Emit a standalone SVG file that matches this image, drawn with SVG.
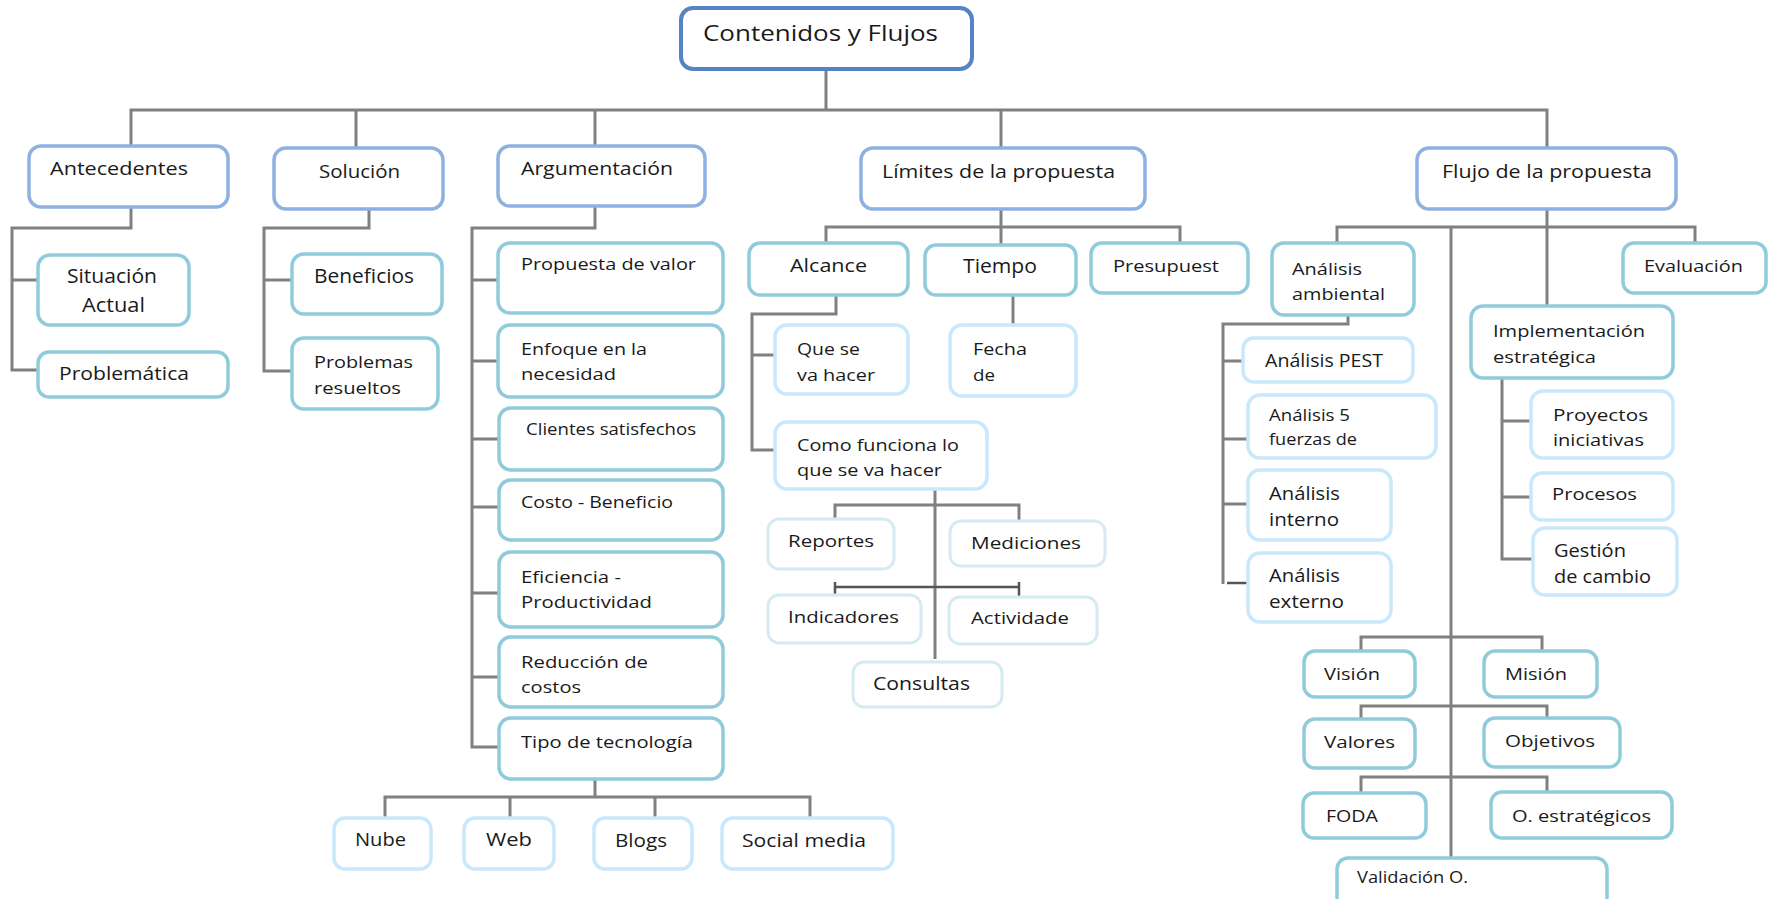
<svg xmlns="http://www.w3.org/2000/svg" width="1775" height="899" viewBox="0 0 1775 899">
<style>
.bx{fill:#fff;stroke-width:3.5}
.r0{stroke:#5583c4;stroke-width:4}
.r1{stroke:#8eb1e0}
.r2{stroke:#90cbdc}
.r3{stroke:#c8e8fb}
.r4{stroke:#d6eaf2;stroke-width:3}
text{font-family:"Open Sans","Liberation Sans",Arial,sans-serif;fill:#1a1a1a}
.cn{fill:none;stroke:#808080;stroke-width:3}
.cd{fill:none;stroke:#555;stroke-width:2.5}
</style>
<rect width="1775" height="899" fill="#fff"/>
<g id="connectors">
<path class="cn" d="M826,69V110M131,146V110H1547V148M356,110V148M595,110V146M1001,110V148"/>
<path class="cn" d="M131,207V228H12V370H38M12,280H38"/>
<path class="cn" d="M369,209V228H264V371H292M264,280H292"/>
<path class="cn" d="M595,206V228H472V747H499M472,280H498M472,361H498M472,439H499M472,507H499M472,593H499M472,677H499"/>
<path class="cn" d="M595,779V797M385,818V797H810V818M510,797V818M655,797V818"/>
<path class="cn" d="M1001,209V245M826,243V227H1180V243"/>
<path class="cn" d="M836,295V314H752V450H775M752,355H775"/>
<path class="cn" d="M1013,295V325"/>
<path class="cn" d="M935,489V659M835,519V505H1019V521"/>
<path class="cd" d="M835,582V595M835,587H1019M1019,582V597"/>
<path class="cn" d="M1547,209V306M1337,243V227H1695V243M1451,228V858"/>
<path class="cn" d="M1348,315V324H1223V584M1223,361H1243M1223,439H1248M1223,504H1248"/>
<path class="cd" d="M1227,583H1249"/>
<path class="cn" d="M1502,378V559H1533M1502,421H1531M1502,497H1531"/>
<path class="cn" d="M1361,651V637H1542V651M1361,719V706H1547V718M1361,793V777H1547V792"/>
</g>
<g id="n-root"><rect class="bx r0" x="681" y="8" width="291" height="61" rx="12"/><text x="703" y="41" font-size="22" textLength="235" lengthAdjust="spacingAndGlyphs">Contenidos y Flujos</text></g>
<g id="n-antecedentes"><rect class="bx r1" x="29" y="146" width="199" height="61" rx="12"/><text x="50" y="175" font-size="18.5" textLength="138" lengthAdjust="spacingAndGlyphs">Antecedentes</text></g>
<g id="n-solucion"><rect class="bx r1" x="274" y="148" width="169" height="61" rx="12"/><text x="319" y="178" font-size="18.5" textLength="81" lengthAdjust="spacingAndGlyphs">Solución</text></g>
<g id="n-argumentacion"><rect class="bx r1" x="498" y="146" width="207" height="60" rx="12"/><text x="521" y="175" font-size="18.5" textLength="152" lengthAdjust="spacingAndGlyphs">Argumentación</text></g>
<g id="n-limites"><rect class="bx r1" x="861" y="148" width="284" height="61" rx="12"/><text x="882" y="178" font-size="18.5" textLength="233" lengthAdjust="spacingAndGlyphs">Límites de la propuesta</text></g>
<g id="n-flujo"><rect class="bx r1" x="1417" y="148" width="259" height="61" rx="12"/><text x="1442" y="178" font-size="18.5" textLength="210" lengthAdjust="spacingAndGlyphs">Flujo de la propuesta</text></g>
<g id="n-situacion"><rect class="bx r2" x="38" y="255" width="151" height="70" rx="12"/><text x="67" y="283" font-size="19.5" textLength="90" lengthAdjust="spacingAndGlyphs">Situación</text><text x="82" y="312" font-size="19.5" textLength="63" lengthAdjust="spacingAndGlyphs">Actual</text></g>
<g id="n-problematica"><rect class="bx r2" x="38" y="352" width="190" height="45" rx="11"/><text x="59" y="380" font-size="18.5" textLength="130" lengthAdjust="spacingAndGlyphs">Problemática</text></g>
<g id="n-beneficios"><rect class="bx r2" x="292" y="254" width="150" height="60" rx="12"/><text x="314" y="283" font-size="19.5" textLength="100" lengthAdjust="spacingAndGlyphs">Beneficios</text></g>
<g id="n-problemas"><rect class="bx r2" x="292" y="338" width="146" height="71" rx="12"/><text x="314" y="368" font-size="17" textLength="99" lengthAdjust="spacingAndGlyphs">Problemas</text><text x="314" y="394" font-size="17" textLength="87" lengthAdjust="spacingAndGlyphs">resueltos</text></g>
<g id="n-propuesta"><rect class="bx r2" x="498" y="243" width="225" height="70" rx="12"/><text x="521" y="270" font-size="17" textLength="175" lengthAdjust="spacingAndGlyphs">Propuesta de valor</text></g>
<g id="n-enfoque"><rect class="bx r2" x="498" y="325" width="225" height="72" rx="12"/><text x="521" y="355" font-size="17" textLength="126" lengthAdjust="spacingAndGlyphs">Enfoque en la</text><text x="521" y="380" font-size="17" textLength="95" lengthAdjust="spacingAndGlyphs">necesidad</text></g>
<g id="n-clientes"><rect class="bx r2" x="499" y="408" width="224" height="62" rx="12"/><text x="526" y="435" font-size="17" textLength="170" lengthAdjust="spacingAndGlyphs">Clientes satisfechos</text></g>
<g id="n-costo"><rect class="bx r2" x="499" y="480" width="224" height="60" rx="12"/><text x="521" y="508" font-size="17" textLength="152" lengthAdjust="spacingAndGlyphs">Costo - Beneficio</text></g>
<g id="n-eficiencia"><rect class="bx r2" x="499" y="552" width="224" height="75" rx="12"/><text x="521" y="583" font-size="17" textLength="100" lengthAdjust="spacingAndGlyphs">Eficiencia -</text><text x="521" y="608" font-size="17" textLength="131" lengthAdjust="spacingAndGlyphs">Productividad</text></g>
<g id="n-reduccion"><rect class="bx r2" x="499" y="637" width="224" height="70" rx="12"/><text x="521" y="668" font-size="17" textLength="127" lengthAdjust="spacingAndGlyphs">Reducción de</text><text x="521" y="693" font-size="17" textLength="60" lengthAdjust="spacingAndGlyphs">costos</text></g>
<g id="n-tipo"><rect class="bx r2" x="499" y="718" width="224" height="61" rx="12"/><text x="521" y="748" font-size="17" textLength="172" lengthAdjust="spacingAndGlyphs">Tipo de tecnología</text></g>
<g id="n-nube"><rect class="bx r3" x="334" y="818" width="97" height="51" rx="11"/><text x="355" y="846" font-size="19" textLength="51" lengthAdjust="spacingAndGlyphs">Nube</text></g>
<g id="n-web"><rect class="bx r3" x="464" y="818" width="90" height="51" rx="11"/><text x="486" y="846" font-size="19" textLength="46" lengthAdjust="spacingAndGlyphs">Web</text></g>
<g id="n-blogs"><rect class="bx r3" x="594" y="818" width="98" height="51" rx="11"/><text x="615" y="847" font-size="19" textLength="52" lengthAdjust="spacingAndGlyphs">Blogs</text></g>
<g id="n-social"><rect class="bx r3" x="722" y="818" width="171" height="51" rx="11"/><text x="742" y="847" font-size="19" textLength="124" lengthAdjust="spacingAndGlyphs">Social media</text></g>
<g id="n-alcance"><rect class="bx r2" x="749" y="243" width="159" height="52" rx="11"/><text x="790" y="272" font-size="17.5" textLength="77" lengthAdjust="spacingAndGlyphs">Alcance</text></g>
<g id="n-tiempo"><rect class="bx r2" x="925" y="245" width="151" height="50" rx="11"/><text x="963" y="273" font-size="19.5" textLength="74" lengthAdjust="spacingAndGlyphs">Tiempo</text></g>
<g id="n-presupuest"><rect class="bx r2" x="1091" y="243" width="157" height="50" rx="11"/><text x="1113" y="272" font-size="16.5" textLength="106" lengthAdjust="spacingAndGlyphs">Presupuest</text></g>
<g id="n-queseva"><rect class="bx r3" x="775" y="325" width="133" height="69" rx="12"/><text x="797" y="355" font-size="16" textLength="63" lengthAdjust="spacingAndGlyphs">Que se</text><text x="797" y="381" font-size="16" textLength="78" lengthAdjust="spacingAndGlyphs">va hacer</text></g>
<g id="n-fecha"><rect class="bx r3" x="950" y="325" width="126" height="71" rx="12"/><text x="973" y="355" font-size="16.5" textLength="54" lengthAdjust="spacingAndGlyphs">Fecha</text><text x="973" y="381" font-size="16.5" textLength="22" lengthAdjust="spacingAndGlyphs">de</text></g>
<g id="n-como"><rect class="bx r3" x="775" y="422" width="212" height="67" rx="12"/><text x="797" y="451" font-size="16" textLength="162" lengthAdjust="spacingAndGlyphs">Como funciona lo</text><text x="797" y="476" font-size="16" textLength="145" lengthAdjust="spacingAndGlyphs">que se va hacer</text></g>
<g id="n-reportes"><rect class="bx r4" x="768" y="519" width="126" height="50" rx="11"/><text x="788" y="547" font-size="17" textLength="86" lengthAdjust="spacingAndGlyphs">Reportes</text></g>
<g id="n-mediciones"><rect class="bx r4" x="950" y="521" width="155" height="45" rx="11"/><text x="971" y="549" font-size="17" textLength="110" lengthAdjust="spacingAndGlyphs">Mediciones</text></g>
<g id="n-indicadores"><rect class="bx r4" x="768" y="595" width="153" height="48" rx="11"/><text x="788" y="623" font-size="17" textLength="111" lengthAdjust="spacingAndGlyphs">Indicadores</text></g>
<g id="n-actividade"><rect class="bx r4" x="949" y="597" width="148" height="47" rx="11"/><text x="971" y="624" font-size="17" textLength="98" lengthAdjust="spacingAndGlyphs">Actividade</text></g>
<g id="n-consultas"><rect class="bx r4" x="853" y="662" width="149" height="45" rx="11"/><text x="873" y="690" font-size="19" textLength="97" lengthAdjust="spacingAndGlyphs">Consultas</text></g>
<g id="n-ambiental"><rect class="bx r2" x="1272" y="243" width="142" height="72" rx="12"/><text x="1292" y="275" font-size="16.5" textLength="70" lengthAdjust="spacingAndGlyphs">Análisis</text><text x="1292" y="300" font-size="16.5" textLength="93" lengthAdjust="spacingAndGlyphs">ambiental</text></g>
<g id="n-evaluacion"><rect class="bx r2" x="1623" y="243" width="143" height="50" rx="11"/><text x="1644" y="272" font-size="16.5" textLength="99" lengthAdjust="spacingAndGlyphs">Evaluación</text></g>
<g id="n-pest"><rect class="bx r3" x="1243" y="338" width="170" height="44" rx="11"/><text x="1265" y="367" font-size="17.5" textLength="118" lengthAdjust="spacingAndGlyphs">Análisis PEST</text></g>
<g id="n-5fuerzas"><rect class="bx r3" x="1248" y="395" width="188" height="63" rx="12"/><text x="1269" y="421" font-size="16.5" textLength="81" lengthAdjust="spacingAndGlyphs">Análisis 5</text><text x="1269" y="445" font-size="16.5" textLength="88" lengthAdjust="spacingAndGlyphs">fuerzas de</text></g>
<g id="n-interno"><rect class="bx r3" x="1248" y="470" width="143" height="70" rx="12"/><text x="1269" y="500" font-size="17.5" textLength="71" lengthAdjust="spacingAndGlyphs">Análisis</text><text x="1269" y="526" font-size="17.5" textLength="70" lengthAdjust="spacingAndGlyphs">interno</text></g>
<g id="n-externo"><rect class="bx r3" x="1248" y="553" width="143" height="69" rx="12"/><text x="1269" y="582" font-size="17.5" textLength="71" lengthAdjust="spacingAndGlyphs">Análisis</text><text x="1269" y="608" font-size="17.5" textLength="75" lengthAdjust="spacingAndGlyphs">externo</text></g>
<g id="n-implementacion"><rect class="bx r2" x="1471" y="306" width="202" height="72" rx="12"/><text x="1493" y="337" font-size="16.5" textLength="152" lengthAdjust="spacingAndGlyphs">Implementación</text><text x="1493" y="363" font-size="16.5" textLength="103" lengthAdjust="spacingAndGlyphs">estratégica</text></g>
<g id="n-proyectos"><rect class="bx r3" x="1531" y="391" width="142" height="67" rx="12"/><text x="1553" y="421" font-size="17" textLength="95" lengthAdjust="spacingAndGlyphs">Proyectos</text><text x="1553" y="446" font-size="17" textLength="91" lengthAdjust="spacingAndGlyphs">iniciativas</text></g>
<g id="n-procesos"><rect class="bx r3" x="1531" y="473" width="142" height="47" rx="11"/><text x="1552" y="500" font-size="17" textLength="85" lengthAdjust="spacingAndGlyphs">Procesos</text></g>
<g id="n-gestion"><rect class="bx r3" x="1533" y="528" width="144" height="67" rx="12"/><text x="1554" y="557" font-size="17.5" textLength="72" lengthAdjust="spacingAndGlyphs">Gestión</text><text x="1554" y="583" font-size="17.5" textLength="97" lengthAdjust="spacingAndGlyphs">de cambio</text></g>
<g id="n-vision"><rect class="bx r2" x="1304" y="651" width="111" height="46" rx="11"/><text x="1324" y="680" font-size="17" textLength="56" lengthAdjust="spacingAndGlyphs">Visión</text></g>
<g id="n-mision"><rect class="bx r2" x="1484" y="651" width="113" height="46" rx="11"/><text x="1505" y="680" font-size="17" textLength="62" lengthAdjust="spacingAndGlyphs">Misión</text></g>
<g id="n-valores"><rect class="bx r2" x="1304" y="719" width="111" height="49" rx="11"/><text x="1324" y="748" font-size="17" textLength="71" lengthAdjust="spacingAndGlyphs">Valores</text></g>
<g id="n-objetivos"><rect class="bx r2" x="1484" y="718" width="136" height="49" rx="11"/><text x="1505" y="747" font-size="17" textLength="90" lengthAdjust="spacingAndGlyphs">Objetivos</text></g>
<g id="n-foda"><rect class="bx r2" x="1303" y="793" width="123" height="45" rx="11"/><text x="1326" y="822" font-size="16.5" textLength="52" lengthAdjust="spacingAndGlyphs">FODA</text></g>
<g id="n-oestrategicos"><rect class="bx r2" x="1491" y="792" width="181" height="46" rx="11"/><text x="1512" y="822" font-size="17" textLength="139" lengthAdjust="spacingAndGlyphs">O. estratégicos</text></g>
<g id="n-validacion"><rect class="bx r2" x="1337" y="858" width="270" height="50" rx="11"/><text x="1357" y="883" font-size="17" textLength="111" lengthAdjust="spacingAndGlyphs">Validación O.</text></g>
</svg>
